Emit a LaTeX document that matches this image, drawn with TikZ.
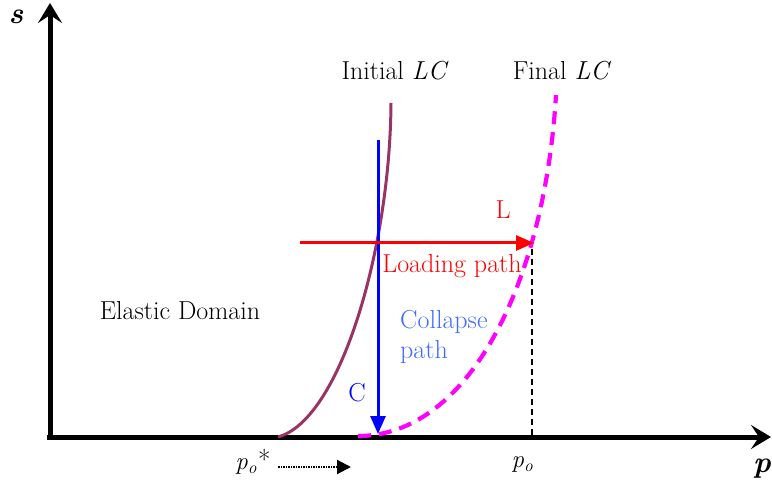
\documentclass[tikz,border=0pt]{standalone}
\usepackage{tikz}
\usetikzlibrary{arrows.meta,positioning}
\definecolor{Ink}{HTML}{000000}
\definecolor{InitPlum}{HTML}{993366}
\definecolor{FinalMagenta}{HTML}{FF00FF}
\definecolor{PathBlue}{HTML}{0000FF}
\definecolor{PathRed}{HTML}{FF0000}
\definecolor{LabelBlue}{HTML}{3F6BFF}
\tikzset{
  axisLine/.style={-{Stealth[length=20pt,width=24pt,inset=8pt]},draw=Ink,line width=5pt},
  initCurve/.style={draw=InitPlum,line width=3pt},
  finalCurve/.style={draw=FinalMagenta,line width=4.2pt,dash pattern=on 13pt off 8pt},
  collapseArrow/.style={-{Triangle[length=18pt,width=15pt]},draw=PathBlue,line width=3pt},
  loadArrow/.style={-{Triangle[length=18pt,width=15pt]},draw=PathRed,line width=3pt},
  dropLine/.style={draw=Ink,line width=2.8pt,dash pattern=on 6pt off 4pt},
  shiftArrow/.style={-{Triangle[length=14pt,width=14pt]},draw=Ink,line width=2.2pt,dash pattern=on 1.5pt off 1pt},
  lbl/.style={font=\fontsize{26}{30}\selectfont,inner sep=0pt,align=left},
  axisLbl/.style={font=\fontsize{30}{32}\selectfont\bfseries\itshape,inner sep=0pt}
}
\begin{document}
\begin{tikzpicture}[x=1pt,y=-1pt]
  \useasboundingbox (0,0) rectangle (772,489);
  % Axes
  \coordinate (origin) at (50,437);
  \coordinate (sTip) at (50,3);
  \coordinate (pTip) at (771,437);
  \draw[axisLine] (47,437) -- (pTip);
  \draw[axisLine] (50,439) -- (sTip);
  \node[axisLbl] (sLab) at (16,17) {s};
  \node[axisLbl] (pLab) at (762,469) {p};

  % Loading collapse curves
  \coordinate (initFoot) at (278,437);
  \coordinate (initTop) at (391,103);
  \draw[initCurve] (initFoot) .. controls (340,420) and (390,250) .. (initTop);
  \coordinate (finalFoot) at (358,436);
  \coordinate (finalTop) at (556,95);
  \draw[finalCurve] (finalFoot) .. controls (470,436) and (545,280) .. (finalTop);
  \node[lbl] (initLab) at (395,71) {Initial \textit{LC}};
  \node[lbl] (finalLab) at (562,71) {Final \textit{LC}};

  % Stress paths
  \coordinate (cStart) at (378,140);
  \coordinate (cEnd) at (378,434);
  \coordinate (lStart) at (300,243);
  \coordinate (lEnd) at (534,243);
  \draw[collapseArrow] (cStart) -- (cEnd);
  \draw[loadArrow] (lStart) -- (lEnd);
  \coordinate (dropTop) at (532,249);
  \coordinate (dropFoot) at (532,435);
  \draw[dropLine] (dropTop) -- (dropFoot);
  \node[lbl,text=PathRed] (lLab) at (503,210) {L};
  \node[lbl,text=PathRed] (loadLab) at (452,266) {Loading path};
  \node[lbl,text=LabelBlue,anchor=west,font=\fontsize{26}{30}\selectfont] (collLab) at (400,337) {Collapse\\path};
  \node[lbl,text=PathBlue] (cLab) at (357,393) {C};
  \node[lbl] (elastLab) at (180,311) {Elastic Domain};

  % Preconsolidation pressures
  \node[lbl,font=\fontsize{27}{30}\selectfont] (p0sLab) at (253,462) {$\mathit{p_o}$*};
  \node[lbl,font=\fontsize{27}{30}\selectfont] (p0Lab) at (523,465) {$\mathit{p_o}$};
  \coordinate (shiftA) at (278,467);
  \coordinate (shiftB) at (351,467);
  \draw[shiftArrow] (shiftA) -- (shiftB);
\end{tikzpicture}
\end{document}
